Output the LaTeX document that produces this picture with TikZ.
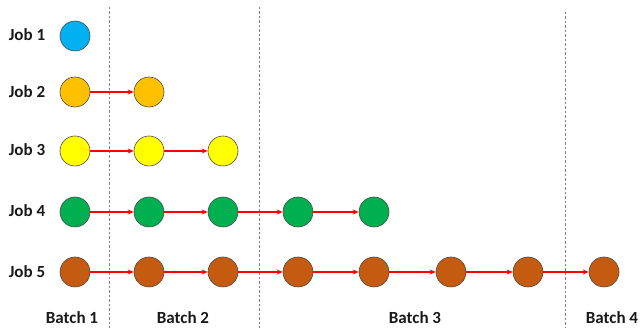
\documentclass[tikz,border=0pt]{standalone}
\usepackage{fontspec}
\setmainfont{Carlito}
\usetikzlibrary{arrows.meta}
\definecolor{cblue}{HTML}{00B0F0}
\definecolor{corange}{HTML}{FFC000}
\definecolor{cyellow}{HTML}{FFFF00}
\definecolor{cgreen}{HTML}{00B050}
\definecolor{cbrown}{HTML}{C55A11}
\begin{document}
\begin{tikzpicture}[x=1pt,y=-1pt,
  jobdot/.style={circle,draw=black!70,line width=0.6pt,minimum size=30pt,inner sep=0pt},
  lbl/.style={font=\fontsize{17}{20}\selectfont\bfseries,text=black!90,inner sep=0pt},
  link/.style={red,line width=1.3pt,-{Stealth[length=6pt,width=5pt]}},
  sep/.style={gray,dashed,line width=0.6pt,dash pattern=on 2.5pt off 2pt}]
\useasboundingbox (0,0) rectangle (641,328);
% separators
\coordinate (s1t) at (109,7); \coordinate (s1b) at (109,328);
\coordinate (s2t) at (259,7); \coordinate (s2b) at (259,328);
\coordinate (s3t) at (565,12); \coordinate (s3b) at (565,328);
\draw[sep] (s1t) -- (s1b);
\draw[sep] (s2t) -- (s2b);
\draw[sep] (s3t) -- (s3b);
% job labels
\node[lbl] (j1) at (27,35) {Job 1};
\node[lbl] (j2) at (27,92) {Job 2};
\node[lbl] (j3) at (27,150) {Job 3};
\node[lbl] (j4) at (27,211) {Job 4};
\node[lbl] (j5) at (27,272) {Job 5};
% batch labels
\node[lbl] (b1) at (72,318) {Batch 1};
\node[lbl] (b2) at (183,318) {Batch 2};
\node[lbl] (b3) at (415,318) {Batch 3};
\node[lbl] (b4) at (612,318) {Batch 4};
% job 1
\node[jobdot,fill=cblue] (a1) at (75,36) {};
% job 2
\node[jobdot,fill=corange] (b21) at (75,92) {};
\node[jobdot,fill=corange] (b22) at (149,92) {};
\draw[link] (b21) -- (b22);
% job 3
\node[jobdot,fill=cyellow] (c1) at (75,151) {};
\node[jobdot,fill=cyellow] (c2) at (149,151) {};
\node[jobdot,fill=cyellow] (c3) at (223,151) {};
\draw[link] (c1) -- (c2);
\draw[link] (c2) -- (c3);
% job 4
\node[jobdot,fill=cgreen] (d1) at (75,212) {};
\node[jobdot,fill=cgreen] (d2) at (149,212) {};
\node[jobdot,fill=cgreen] (d3) at (223,212) {};
\node[jobdot,fill=cgreen] (d4) at (298,212) {};
\node[jobdot,fill=cgreen] (d5) at (374,212) {};
\draw[link] (d1) -- (d2);
\draw[link] (d2) -- (d3);
\draw[link] (d3) -- (d4);
\draw[link] (d4) -- (d5);
% job 5
\node[jobdot,fill=cbrown] (e1) at (75,272) {};
\node[jobdot,fill=cbrown] (e2) at (149,272) {};
\node[jobdot,fill=cbrown] (e3) at (223,272) {};
\node[jobdot,fill=cbrown] (e4) at (298,272) {};
\node[jobdot,fill=cbrown] (e5) at (374,272) {};
\node[jobdot,fill=cbrown] (e6) at (451,272) {};
\node[jobdot,fill=cbrown] (e7) at (528,272) {};
\node[jobdot,fill=cbrown] (e8) at (604,272) {};
\draw[link] (e1) -- (e2);
\draw[link] (e2) -- (e3);
\draw[link] (e3) -- (e4);
\draw[link] (e4) -- (e5);
\draw[link] (e5) -- (e6);
\draw[link] (e6) -- (e7);
\draw[link] (e7) -- (e8);
\end{tikzpicture}
\end{document}
